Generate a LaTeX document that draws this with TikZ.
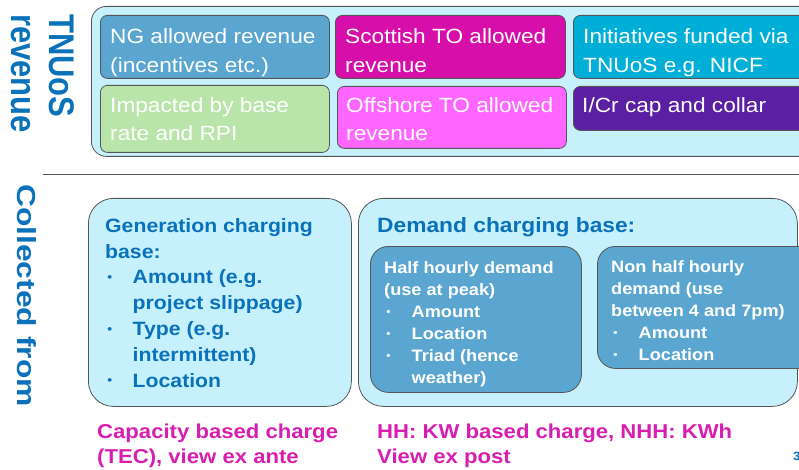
\documentclass[tikz,border=0pt]{standalone}
\usepackage{graphicx}
\usepackage{fontspec}
\setmainfont{Liberation Sans}
\definecolor{tnublue}{RGB}{10,114,186}
\definecolor{paleblue}{RGB}{197,240,252}
\definecolor{framegray}{RGB}{85,85,85}
\definecolor{ngblue}{RGB}{91,166,208}
\definecolor{scotmag}{RGB}{215,15,170}
\definecolor{initcyan}{RGB}{0,175,216}
\definecolor{impgreen}{RGB}{185,229,171}
\definecolor{offpink}{RGB}{255,102,255}
\definecolor{icrpurple}{RGB}{91,31,163}
\definecolor{chargemag}{RGB}{216,30,176}
\newcommand{\bul}[1]{\makebox[25pt][l]{\hspace{2pt}\raisebox{0.12em}{\scalebox{0.65}{\textbullet}}}#1}
\newcommand{\ind}{\hspace*{25pt}}
% text nodes sit on the baseline of their last line
\tikzset{
  panel/.style={draw=framegray, line width=0.8pt, rounded corners=#1, anchor=north west, inner sep=0pt},
  boxtext/.style={anchor=base west, align=left, inner sep=0pt, text=white, xscale=1.1,
    font=\fontsize{20.6}{28.5}\selectfont},
  vtitle/.style={rotate=-90, anchor=base west, align=left, inner sep=0pt, text=tnublue,
    font=\bfseries\fontsize{31}{33}\selectfont},
  basetext/.style={anchor=base west, align=left, inner sep=0pt, xscale=1.1, font=\bfseries}
}
\begin{document}
\begin{tikzpicture}[x=1pt,y=-1pt]
\useasboundingbox (0,0) rectangle (799,470);
\clip (0,0) rectangle (799,470);
% revenue side
\node [vtitle, yscale=1.15] (tnuos) at (12,14) {TNUoS\\revenue};
\node [panel=15, fill=paleblue, minimum width=724pt, minimum height=150pt] (revbox) at (91,6) {};
\node [panel=7, fill=ngblue, minimum width=229pt, minimum height=63pt] (ngbox) at (100,15) {};
\node [panel=7, fill=scotmag, minimum width=230pt, minimum height=63pt] (scotbox) at (335,15) {};
\node [panel=7, fill=initcyan, minimum width=240pt, minimum height=63pt] (initbox) at (573,15) {};
\node [panel=7, fill=impgreen, minimum width=229pt, minimum height=67pt] (impbox) at (100,85) {};
\node [panel=7, fill=offpink, minimum width=229pt, minimum height=62pt] (offbox) at (337,86) {};
\node [panel=7, fill=icrpurple, minimum width=240pt, minimum height=44pt] (icrbox) at (573,86) {};
\node [boxtext] (ngtext) at (110,72.5) {NG allowed revenue\\(incentives etc.)};
\node [boxtext] (scottext) at (345,72.5) {Scottish TO allowed\\revenue};
\node [boxtext] (inittext) at (583,72.5) {Initiatives funded via\\TNUoS e.g. NICF};
\node [boxtext] (imptext) at (110,141) {Impacted by base\\rate and RPI};
\node [boxtext] (offtext) at (346,141) {Offshore TO allowed\\revenue};
\node [boxtext] (icrtext) at (582,113) {I/Cr cap and collar};
\draw [framegray, line width=0.8pt] (43,174) -- (799,174);
% collection side
\node [vtitle, yscale=0.82, font=\bfseries\fontsize{31.8}{33}\selectfont] (collected) at (17.5,184) {Collected from};
\node [panel=25, fill=paleblue, minimum width=263pt, minimum height=208pt] (genbox) at (88,198) {};
\node [panel=25, fill=paleblue, minimum width=439pt, minimum height=208pt] (dembox) at (358,198) {};
\node [panel=18, fill=ngblue, minimum width=211pt, minimum height=146pt] (hhbox) at (370,246) {};
\node [panel=18, fill=ngblue, minimum width=220pt, minimum height=122pt] (nhhbox) at (597,246) {};
\node [basetext, text=tnublue, font=\bfseries\fontsize{19.3}{25.8}\selectfont] (gentext) at (105,387)
  {Generation charging\\base:\\\bul{Amount (e.g.}\\\ind project slippage)\\\bul{Type (e.g.}\\\ind intermittent)\\\bul{Location}};
\node [basetext, text=tnublue, font=\bfseries\fontsize{20.7}{25}\selectfont] (demtext) at (377,233) {Demand charging base:};
\node [basetext, text=white, font=\bfseries\fontsize{16.5}{22}\selectfont] (hhtext) at (384,383)
  {Half hourly demand\\(use at peak)\\\bul{Amount}\\\bul{Location}\\\bul{Triad (hence}\\\ind weather)};
\node [basetext, text=white, font=\bfseries\fontsize{16.5}{22}\selectfont] (nhhtext) at (611,360)
  {Non half hourly\\demand (use\\between 4 and 7pm)\\\bul{Amount}\\\bul{Location}};
\node [basetext, text=chargemag, font=\bfseries\fontsize{20.1}{25.5}\selectfont] (capnote) at (97,463.5)
  {Capacity based charge\\(TEC), view ex ante};
\node [basetext, text=chargemag, font=\bfseries\fontsize{20.1}{25.5}\selectfont] (hhnote) at (377,463.5)
  {HH: KW based charge, NHH: KWh\\View ex post};
\node [basetext, text=tnublue, font=\bfseries\fontsize{12}{14}\selectfont] (pagenum) at (793,460) {3};
\end{tikzpicture}
\end{document}
